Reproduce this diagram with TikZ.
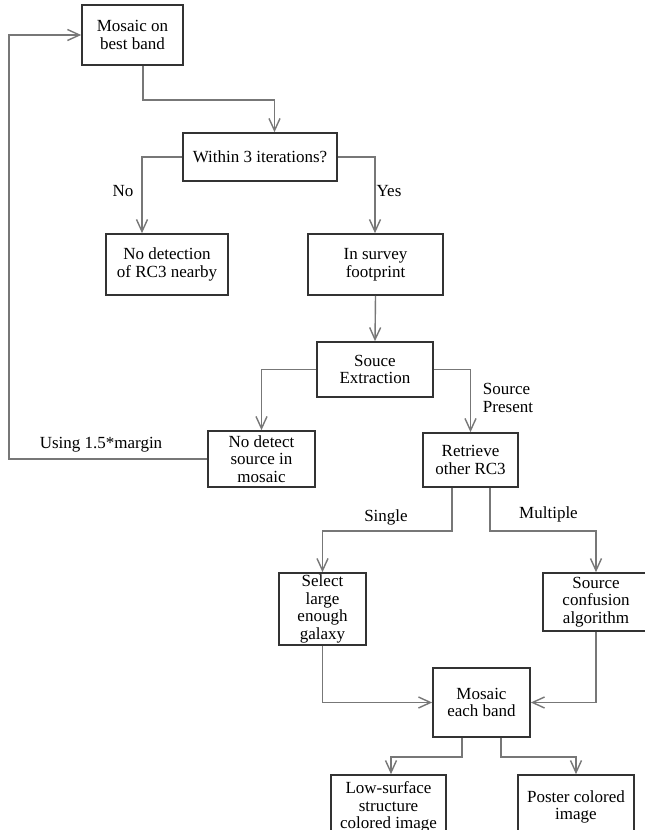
\documentclass[tikz,border=0pt]{standalone}
\usepackage{fontspec}
\setmainfont{Liberation Serif}
\usetikzlibrary{arrows.meta}
\definecolor{boxc}{HTML}{333333}
\definecolor{linec}{HTML}{777777}
\tikzset{
  box/.style={draw=boxc, line width=1.7pt, inner sep=0pt, align=center,
    font=\fontsize{17}{17.5}\selectfont, text=black},
  conn/.style={draw=linec, line width=1.4pt},
  arr/.style={conn, -{Straight Barb[length=12pt,width=11pt]}},
  lbl/.style={font=\fontsize{17}{17.5}\selectfont, inner sep=0pt, align=left}
}
\begin{document}
\begin{tikzpicture}[x=1pt, y=-1pt]
\useasboundingbox[fill=white] (0,0) rectangle (645,830);
\node[box, minimum width=101pt, minimum height=60pt] (B1) at (132.5,35) {Mosaic on\\best band};
\node[box, minimum width=154pt, minimum height=48pt] (B2) at (260,157) {Within 3 iterations?};
\node[box, minimum width=122pt, minimum height=61pt] (B3) at (167,264.5) {No detection\\of RC3 nearby};
\node[box, minimum width=135pt, minimum height=61pt] (B4) at (375.5,264.5) {In survey\\footprint};
\node[box, minimum width=116pt, minimum height=55pt] (B5) at (375,369.5) {Souce\\Extraction};
\node[box, minimum width=107pt, minimum height=56pt] (B6) at (261.5,459) {No detect\\source in\\mosaic};
\node[box, minimum width=95pt, minimum height=54pt] (B7) at (470.5,460) {Retrieve\\other RC3};
\node[box, minimum width=87pt, minimum height=72pt] (B8) at (322.5,609) {Select\\large\\enough\\galaxy};
\node[box, minimum width=106pt, minimum height=58pt] (B9) at (596,602) {Source\\confusion\\algorithm};
\node[box, minimum width=97pt, minimum height=69pt] (B10) at (481.5,702.5) {Mosaic\\each band};
\node[box, minimum width=115pt, minimum height=64pt] (B11) at (388.5,807) {Low-surface\\structure\\colored image};
\node[box, minimum width=116pt, minimum height=64pt] (B12) at (576,807) {Poster colored\\image};

\node[lbl] (lno) at (123,191) {No};
\node[lbl] (lyes) at (389,191) {Yes};
\node[lbl] (lsp) at (508,398) {Source\\Present};
\node[lbl] (lmar) at (101,445) {Using 1.5*margin};
\node[lbl] (lsin) at (386,517) {Single};
\node[lbl] (lmul) at (548.5,514) {Multiple};

\coordinate (fb) at (9,459);
\draw[arr] (B6.west) -- (fb) |- (B1.west);
\draw[arr] ([xshift=10.5pt]B1.south) -- ++(0,34) -| ([xshift=14.5pt]B2.north);
\draw[arr] (B2.west) -| ([xshift=-25pt]B3.north);
\draw[arr] (B2.east) -| ([xshift=-0.5pt]B4.north);
\draw[arr] (B4.south) -- (B5.north);
\draw[arr] (B5.west) -| (B6.north);
\draw[arr] (B5.east) -| (B7.north);
\draw[arr] ([xshift=-18.5pt]B7.south) -- ++(0,43) -| (B8.north);
\draw[arr] ([xshift=19.5pt]B7.south) -- ++(0,43) -| (B9.north);
\draw[arr] (B8.south) |- (B10.west);
\draw[arr] (B9.south) |- (B10.east);
\draw[arr] ([xshift=-19.5pt]B10.south) -- ++(0,19) -| ([xshift=2.5pt]B11.north);
\draw[arr] ([xshift=19.5pt]B10.south) -- ++(0,19) -| (B12.north);
\end{tikzpicture}
\end{document}
